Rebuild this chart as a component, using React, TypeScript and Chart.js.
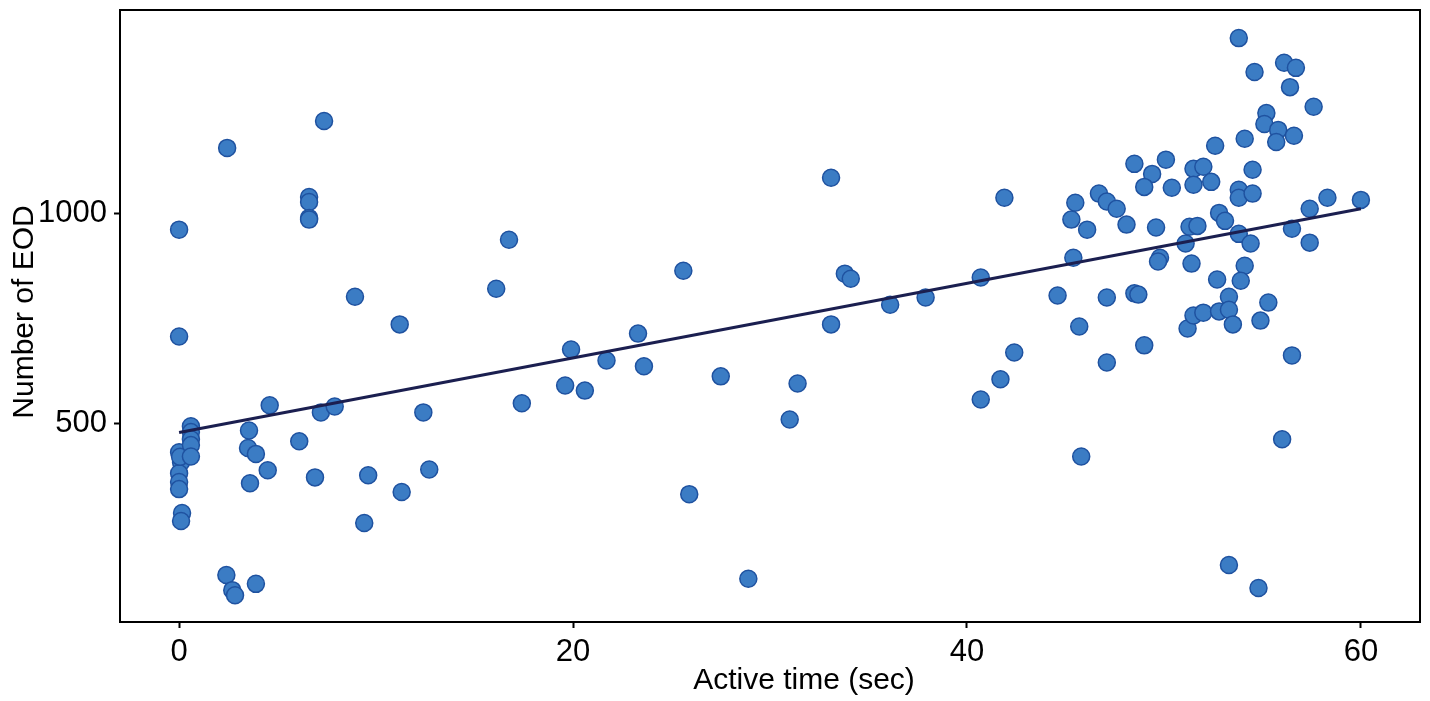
import React, { useEffect, useRef } from 'react';
import { Chart, registerables } from 'chart.js';

Chart.register(...registerables);

// Active time (sec) and number of EOD for each fish/trial
const activeTime = [
    0, 0, 0.15, 0.1, 0, 0.1, 0, 0, 0, 0.05,
    0.6, 0.6, 0.6, 0.6, 0.6,
    7.36, 2.44, 6.6, 6.6, 6.6, 6.6, 8.93, 11.2, 4.6, 7.2,
    7.9, 12.4, 3.55, 3.5, 3.9, 6.1, 4.5, 6.9, 9.6, 12.7,
    3.6, 11.3, 9.4, 2.4, 2.7, 2.84, 3.9,
    16.75, 16.1, 25.6, 33.1, 41.9, 33.8, 34.1, 36.1, 37.9, 40.7,
    33.1, 23.3, 19.9, 21.7, 23.6, 19.6, 20.6, 17.4, 27.5, 31.4,
    31.0, 25.9, 28.9, 42.4, 41.7, 40.7,
    53.8, 54.6, 56.1, 56.7, 56.4, 57.6, 55.2, 55.1, 55.8, 55.7,
    56.6, 54.1, 52.6, 54.5, 48.5, 50.1, 49.4, 49.0, 50.4, 51.5,
    52.0, 51.5, 52.4, 53.8, 53.8, 54.5, 46.7, 47.1, 47.6, 45.5,
    45.3, 46.1, 48.1, 49.6, 51.3, 51.7, 52.8, 53.1, 53.8, 54.4,
    51.1, 56.5, 57.4, 58.3, 60.0, 57.4, 45.4, 49.8, 49.7, 51.4,
    54.1, 52.7, 53.9, 44.6, 47.1, 48.5, 48.7, 53.3, 55.3, 45.7,
    47.1, 49.0, 45.8, 51.2, 51.5, 52.0, 52.8, 53.3, 53.5, 54.9,
    56.5, 56.0, 53.3, 54.8,
];
const eodCount = [
    962, 707, 286, 267, 431, 407, 381, 360, 343, 420,
    493, 479, 462, 448, 421,
    1221, 1157, 1040, 1028, 990, 986, 802, 736, 543, 526,
    540, 526, 483, 441, 427, 457, 388, 371, 376, 390,
    357, 336, 262, 138, 102, 90, 117,
    938, 821, 864, 1086, 1038, 857, 845, 783, 800, 848,
    736, 714, 676, 650, 636, 590, 578, 548, 612, 595,
    509, 331, 129, 669, 605, 557,
    1419, 1338, 1360, 1348, 1302, 1255, 1240, 1214, 1200, 1171,
    1186, 1179, 1162, 1105, 1119, 1129, 1095, 1064, 1062, 1107,
    1112, 1069, 1076, 1057, 1038, 1048, 1048, 1029, 1012, 1026,
    986, 962, 974, 967, 969, 971, 1002, 983, 952, 929,
    929, 964, 1012, 1038, 1033, 931, 895, 895, 886, 881,
    876, 843, 840, 805, 800, 810, 807, 802, 788, 731,
    645, 686, 421, 726, 757, 764, 767, 771, 736, 745,
    662, 462, 162, 107,
];

// linear fit end points
const fitX = [0, 60];
const fitY = [478, 1012];

const xTicks = [0, 20, 40, 60];
const yTicks = [500, 1000];

const FONT = "'Liberation Sans', Arial, sans-serif";

const framePlugin = {
    id: 'frameAndTitles',
    afterDraw(chart: any) {
        const { ctx, chartArea } = chart;
        ctx.save();
        ctx.strokeStyle = '#000';
        ctx.lineWidth = 2;
        ctx.strokeRect(chartArea.left, chartArea.top, chartArea.right - chartArea.left, chartArea.bottom - chartArea.top);

        ctx.fillStyle = '#000';
        ctx.font = `30px ${FONT}`;
        ctx.textAlign = 'center';
        ctx.textBaseline = 'alphabetic';
        ctx.fillText('Active time (sec)', 804, 689);

        ctx.translate(33, 312);
        ctx.rotate(-Math.PI / 2);
        ctx.fillText('Number of EOD', 0, 0);
        ctx.restore();
    }
};

const App: React.FC = () => {
    const canvasRef = useRef<HTMLCanvasElement>(null);
    const chartRef = useRef<Chart | null>(null);

    useEffect(() => {
        if (!canvasRef.current) return;
        if (chartRef.current) chartRef.current.destroy();

        const points = activeTime.map((t, i) => ({ x: t, y: eodCount[i] }));
        const fit = fitX.map((t, i) => ({ x: t, y: fitY[i] }));

        chartRef.current = new Chart(canvasRef.current, {
            type: 'scatter',
            data: {
                datasets: [
                    {
                        label: 'EOD',
                        data: points,
                        backgroundColor: '#3b7cc4',
                        borderColor: '#1f52a0',
                        borderWidth: 1.5,
                        pointRadius: 8.5,
                        order: 2
                    },
                    {
                        type: 'line',
                        label: 'Fit',
                        data: fit,
                        borderColor: '#1b1f50',
                        borderWidth: 3,
                        pointRadius: 0,
                        fill: false,
                        order: 1
                    }
                ]
            },
            options: {
                animation: false,
                responsive: true,
                maintainAspectRatio: false,
                layout: { padding: { top: 9, right: 10, left: 0, bottom: 0 } },
                plugins: {
                    legend: { display: false },
                    tooltip: { enabled: false }
                },
                scales: {
                    x: {
                        type: 'linear',
                        min: -3,
                        max: 63,
                        afterBuildTicks: (axis: any) => { axis.ticks = xTicks.map(v => ({ value: v })); },
                        afterFit: (scale: any) => {
                            scale.height = 79;
                            scale.paddingLeft = 0;
                            scale.paddingRight = 0;
                        },
                        border: { display: false },
                        grid: { drawOnChartArea: false, drawTicks: true, tickLength: 6, tickWidth: 2, tickColor: '#000' },
                        ticks: { color: '#000', font: { family: FONT, size: 31 }, padding: 6, maxRotation: 0 }
                    },
                    y: {
                        type: 'linear',
                        min: 26,
                        max: 1486,
                        afterBuildTicks: (axis: any) => { axis.ticks = yTicks.map(v => ({ value: v })); },
                        afterFit: (scale: any) => {
                            scale.width = 120;
                            scale.paddingTop = 0;
                            scale.paddingBottom = 0;
                        },
                        border: { display: false },
                        grid: { drawOnChartArea: false, drawTicks: true, tickLength: 6, tickWidth: 2, tickColor: '#000' },
                        ticks: {
                            color: '#000',
                            font: { family: FONT, size: 31 },
                            padding: 7,
                            callback: (v: any) => String(v)
                        }
                    }
                }
            },
            plugins: [framePlugin]
        });

        return () => {
            if (chartRef.current) {
                chartRef.current.destroy();
                chartRef.current = null;
            }
        };
    }, []);

    return (
        <div style={{ position: 'absolute', left: 0, top: 0, width: 1430, height: 701, background: '#fff' }}>
            <canvas ref={canvasRef}></canvas>
        </div>
    );
};

export default App;
